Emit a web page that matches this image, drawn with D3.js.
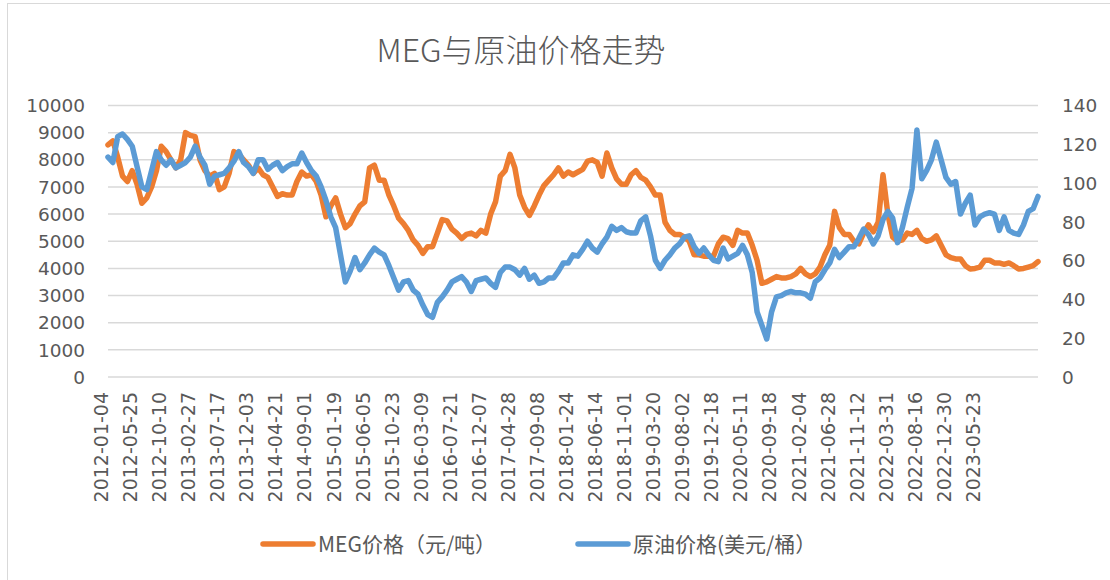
<!DOCTYPE html>
<html>
<head>
<meta charset="utf-8">
<script src="https://cdn.jsdelivr.net/npm/d3@7"></script>
<style>
    body { margin:0; background:#fff; }
    .tick-label { font-family:"DejaVu Sans", sans-serif; fill:#595959; }
    .cjk { font-family:"Noto Sans CJK SC", sans-serif; fill:#595959; }
</style>
</head>
<body>
<script>
// tick labels on the category axis, one every 6 samples
const tickDates = ["2012-01-04","2012-05-25","2012-10-10","2013-02-27","2013-07-17","2013-12-03",
    "2014-04-21","2014-09-01","2015-01-19","2015-06-05","2015-10-23","2016-03-09","2016-07-21",
    "2016-12-07","2017-04-28","2017-09-08","2018-01-24","2018-06-14","2018-11-01","2019-03-20",
    "2019-08-02","2019-12-18","2020-05-11","2020-09-18","2021-02-04","2021-06-28","2021-11-12",
    "2022-03-31","2022-08-16","2022-12-30","2023-05-23"];
const samplesPerTick = 6;

// MEG price, yuan/ton (left axis)
const megPrice = [
    8550,8700,8100,7400,7200,7600,7100,6400,6600,7000,7600,8500,8300,8000,7700,8000,
    9000,8900,8850,8000,7600,7400,7500,6900,7000,7500,8300,8200,8000,7800,7500,7700,
    7450,7350,7000,6650,6750,6700,6700,7200,7550,7400,7450,7200,6700,5900,6300,6600,
    6000,5500,5650,6000,6300,6450,7700,7800,7250,7250,6700,6300,5850,5650,5400,5050,
    4850,4550,4800,4800,5300,5800,5750,5450,5300,5100,5250,5300,5200,5400,5300,6000,
    6450,7400,7600,8200,7700,6700,6250,5950,6300,6700,7050,7250,7450,7700,7400,7550,
    7450,7550,7650,7950,8000,7900,7400,8250,7700,7300,7100,7100,7450,7600,7350,7250,
    7000,6700,6700,5700,5400,5250,5250,5150,5000,4500,4500,4450,4450,4450,4900,5150,
    5100,4850,5400,5300,5300,4850,4300,3450,3500,3600,3700,3650,3650,3700,3800,4000,
    3800,3700,3800,4050,4500,4850,6100,5500,5250,5250,5000,4900,5300,5600,5350,5700,
    7450,6000,5150,5000,5050,5300,5250,5400,5100,5000,5050,5200,4850,4500,4400,4350,
    4350,4100,3980,4000,4050,4300,4300,4200,4200,4150,4200,4100,3980,4000,4050,4100,
    4250
];

// crude oil price, USD/barrel (right axis)
const oilPrice = [
    113.4,110.6,123.9,125.3,122.5,119.0,108.5,98.0,96.6,106.4,116.2,112.0,109.2,112.0,107.8,109.2,
    110.6,113.4,119.0,113.4,109.2,99.4,103.6,104.3,105.0,107.8,111.3,116.2,110.6,108.5,105.0,112.0,
    112.0,107.1,109.2,110.6,106.4,108.5,109.9,109.9,115.5,110.6,106.4,103.6,98.0,91.0,82.6,77.0,
    63.0,49.0,54.6,61.6,55.3,58.8,63.0,66.5,64.4,63.0,57.4,51.1,44.8,49.0,49.7,44.8,
    42.7,37.1,32.2,30.8,38.5,41.3,44.8,49.0,50.4,51.8,49.0,44.1,49.7,50.4,51.1,48.3,
    46.2,53.9,56.7,56.7,55.3,52.5,56.0,50.4,52.5,48.3,49.0,51.1,51.1,54.6,58.8,58.8,
    63.0,62.3,65.8,70.0,66.5,64.4,68.6,72.1,77.7,75.6,77.0,74.9,74.2,74.2,80.5,82.6,
    72.8,60.2,56.0,60.2,63.0,66.5,68.6,72.1,72.8,67.2,63.7,66.5,63.0,60.2,59.5,66.5,
    60.9,62.3,63.7,67.9,63.0,53.9,33.6,26.6,19.6,33.6,41.3,42.0,43.4,44.1,43.4,43.4,
    42.7,40.6,49.0,51.1,55.3,58.8,65.8,61.6,64.4,67.2,67.2,71.4,76.3,73.5,68.6,72.8,
    81.2,85.4,81.9,69.3,77.0,87.5,97.3,127.4,102.2,106.4,112.0,121.1,112.0,102.9,99.4,100.8,
    84.0,89.6,93.8,78.4,82.6,84.0,84.7,84.0,75.6,82.6,75.6,74.2,73.5,78.4,85.4,86.8,
    93.1
];

const leftTicks = d3.range(0, 10001, 1000);
const rightTicks = d3.range(0, 141, 20);

const title = "MEG与原油价格走势";
const legendNames = ["MEG价格（元/吨）", "原油价格(美元/桶）"];
const colors = ["#ED7D31", "#5B9BD5"];

const w = 1110, h = 580;
const plot = {left:108, right:1038, top:105.5, bottom:377};

var svg = d3.select("body").append("svg")
    .attr("width", w)
    .attr("height", h);

// chart frame
svg.append("rect")
    .attr("x", 7.5).attr("y", 3.5)
    .attr("width", w + 10).attr("height", h + 10)
    .attr("fill", "none").attr("stroke", "#d9d9d9").attr("stroke-width", 1);

var x = d3.scaleLinear()
    .domain([0, megPrice.length - 1])
    .range([plot.left, plot.right]);
var yLeft = d3.scaleLinear().domain([0, 10000]).range([plot.bottom, plot.top]);
var yRight = d3.scaleLinear().domain([0, 140]).range([plot.bottom, plot.top]);

// gridlines
svg.append("g").selectAll("line").data(leftTicks).enter().append("line")
    .attr("x1", plot.left).attr("x2", plot.right)
    .attr("y1", d => yLeft(d)).attr("y2", d => yLeft(d))
    .attr("stroke", "#d9d9d9").attr("stroke-width", 1.5);

// left axis labels
svg.append("g").selectAll("text").data(leftTicks).enter().append("text")
    .attr("class", "tick-label")
    .attr("x", 85)
    .attr("y", d => yLeft(d))
    .attr("dy", "0.36em")
    .attr("text-anchor", "end")
    .style("font-size", "18.5px")
    .text(d => d);

// right axis labels
svg.append("g").selectAll("text").data(rightTicks).enter().append("text")
    .attr("class", "tick-label")
    .attr("x", 1062)
    .attr("y", d => yRight(d))
    .attr("dy", "0.36em")
    .attr("text-anchor", "start")
    .style("font-size", "18.5px")
    .text(d => d);

// rotated date labels
svg.append("g").selectAll("text").data(tickDates).enter().append("text")
    .attr("class", "tick-label")
    .attr("transform", (d, i) => "translate(" + x(i * samplesPerTick) + ",392) rotate(-90)")
    .attr("text-anchor", "end")
    .style("font-size", "19px")
    .text(d => d);

// lines
var megLine = d3.line().x((d, i) => x(i)).y(d => yLeft(d));
var oilLine = d3.line().x((d, i) => x(i)).y(d => yRight(d));

svg.append("path").datum(megPrice)
    .attr("d", megLine)
    .attr("fill", "none").attr("stroke", colors[0])
    .attr("stroke-width", 5.5).attr("stroke-linejoin", "round").attr("stroke-linecap", "round");

svg.append("path").datum(oilPrice)
    .attr("d", oilLine)
    .attr("fill", "none").attr("stroke", colors[1])
    .attr("stroke-width", 5.5).attr("stroke-linejoin", "round").attr("stroke-linecap", "round");

// title
svg.append("text").attr("class", "cjk")
    .attr("x", 521).attr("y", 62)
    .attr("text-anchor", "middle")
    .style("font-size", "32px")
    .style("font-weight", 300)
    .text(title);

// legend
var legendX = [263, 578];
var legend = svg.append("g").selectAll("g").data(legendNames).enter().append("g")
    .attr("transform", (d, i) => "translate(" + legendX[i] + ",544)");
legend.append("line")
    .attr("x1", 0).attr("x2", 50)
    .attr("stroke", (d, i) => colors[i])
    .attr("stroke-width", 5.5).attr("stroke-linecap", "round");
legend.append("text").attr("class", "cjk")
    .attr("x", 55).attr("dy", "0.36em")
    .style("font-size", "21px")
    .text(d => d);
</script>
</body>
</html>
